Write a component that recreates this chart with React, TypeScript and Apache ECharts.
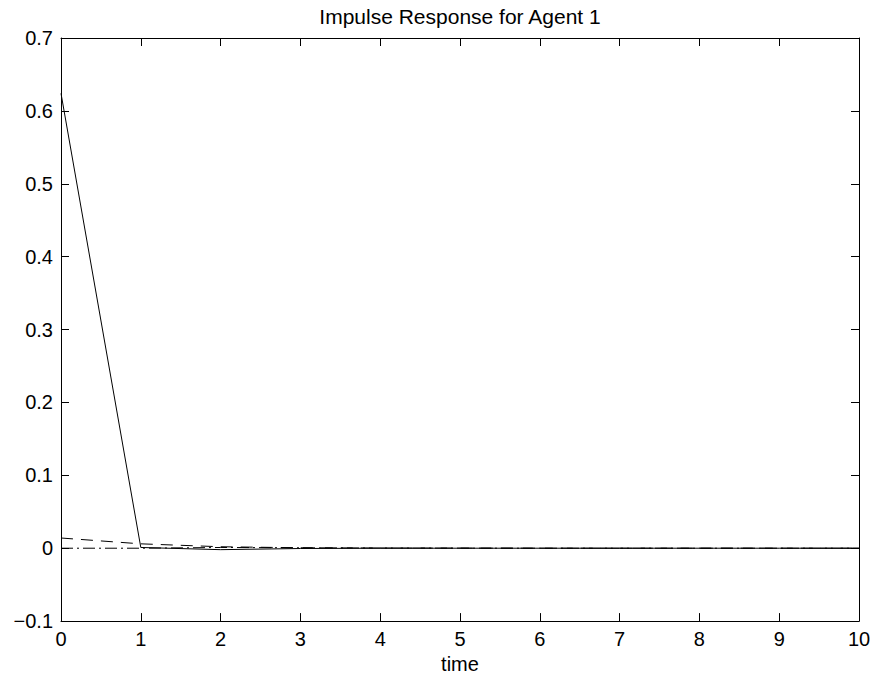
import React, { useEffect, useRef } from "react";
import * as echarts from "echarts";

const timeSteps = [0, 1, 2, 3, 4, 5, 6, 7, 8, 9, 10];
const solidSeries = [0.624, 0.001, -0.002, -0.0004, 0, 0, 0, 0, 0, 0, 0];
const dashedSeries = [0.014, 0.006, 0.002, 0.0006, 0.0002, 0.0001, 0, 0, 0, 0, 0];
const dashDotSeries = [0, 0, 0.001, 0.0006, 0.0002, 0.0001, 0, 0, 0, 0, 0];
const titleText = "Impulse Response for Agent 1";
const xAxisName = "time";

const FONT = "'Liberation Sans', Arial, Helvetica, sans-serif";

export default function App() {
  const ref = useRef<HTMLDivElement>(null);
  useEffect(() => {
    if (!ref.current) return;
    const chart = echarts.init(ref.current, null, { renderer: "svg" });
    const pair = (arr: number[]) => timeSteps.map((t, i) => [t, arr[i]]);
    const axisLineStyle = { lineStyle: { color: "#000", width: 1 } };
    const tickStyle = { inside: true, length: 8, lineStyle: { color: "#000", width: 1 } };
    chart.setOption({
      animation: false,
      backgroundColor: "#fff",
      grid: { left: 61, right: 17, top: 38, bottom: 54, containLabel: false },
      graphic: [
        {
          type: "text",
          x: 460,
          y: 16,
          style: {
            text: titleText,
            fontFamily: FONT,
            fontSize: 21,
            fill: "#000",
            align: "center",
            verticalAlign: "middle",
          },
        },
      ],
      xAxis: [
        {
          type: "value",
          min: 0,
          max: 10,
          interval: 1,
          position: "bottom",
          name: xAxisName,
          nameLocation: "middle",
          nameGap: 40,
          nameTextStyle: { fontFamily: FONT, fontSize: 20, color: "#000", verticalAlign: "middle" },
          axisLine: { show: true, onZero: false, ...axisLineStyle },
          axisTick: tickStyle,
          axisLabel: { fontFamily: FONT, fontSize: 20, color: "#000", margin: 8 },
          splitLine: { show: false },
        },
        {
          type: "value",
          min: 0,
          max: 10,
          interval: 1,
          position: "top",
          axisLine: { show: true, onZero: false, ...axisLineStyle },
          axisTick: tickStyle,
          axisLabel: { show: false },
          splitLine: { show: false },
        },
      ],
      yAxis: [
        {
          type: "value",
          min: -0.1,
          max: 0.7,
          interval: 0.1,
          position: "left",
          axisLine: { show: true, onZero: false, ...axisLineStyle },
          axisTick: tickStyle,
          axisLabel: {
            fontFamily: FONT,
            fontSize: 20,
            color: "#000",
            margin: 8,
            formatter: (v: number) => {
              const r = Math.round(v * 10) / 10;
              if (r === 0) return "0";
              return r < 0 ? "\u2212" + String(-r) : String(r);
            },
          },
          splitLine: { show: false },
        },
        {
          type: "value",
          min: -0.1,
          max: 0.7,
          interval: 0.1,
          position: "right",
          axisLine: { show: true, onZero: false, ...axisLineStyle },
          axisTick: tickStyle,
          axisLabel: { show: false },
          splitLine: { show: false },
        },
      ],
      series: [
        {
          type: "line",
          data: pair(dashDotSeries),
          showSymbol: false,
          lineStyle: { color: "#000", width: 1, type: [12, 4, 2, 4] },
        },
        {
          type: "line",
          data: pair(dashedSeries),
          showSymbol: false,
          lineStyle: { color: "#000", width: 1, type: [12, 8] },
        },
        {
          type: "line",
          data: pair(solidSeries),
          showSymbol: false,
          lineStyle: { color: "#000", width: 1, type: "solid" },
        },
      ],
    });
    return () => chart.dispose();
  }, []);
  return <div ref={ref} style={{ width: 876, height: 679, position: "absolute", left: 0, top: 0 }} />;
}
